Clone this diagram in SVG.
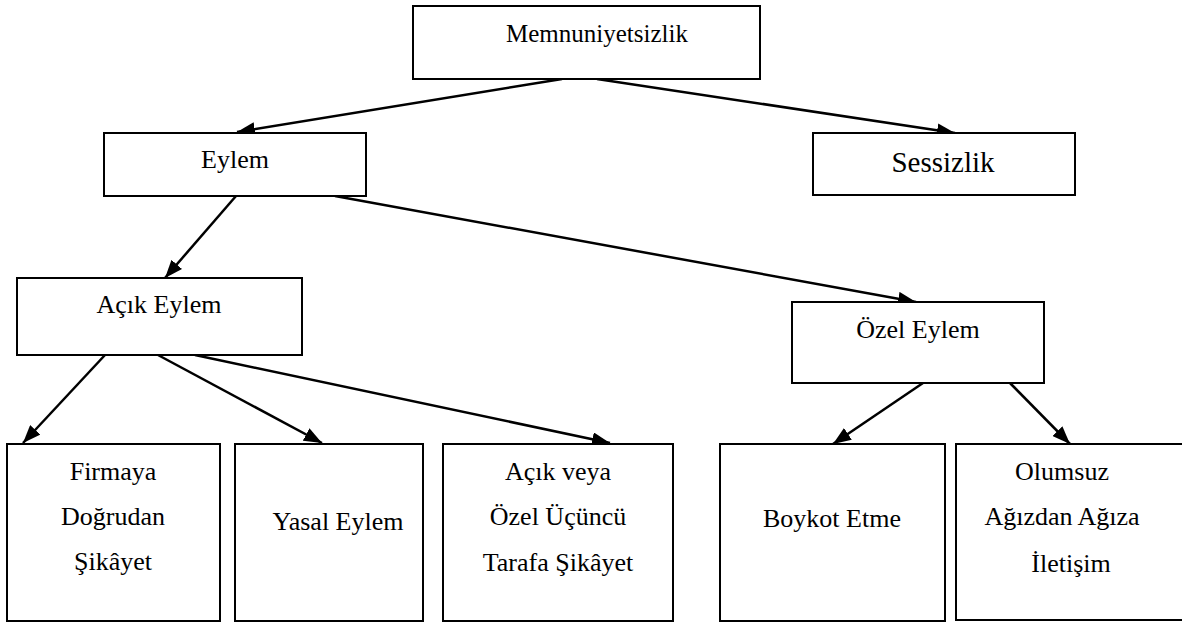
<svg xmlns="http://www.w3.org/2000/svg" width="1182" height="622" viewBox="0 0 1182 622">
<style>
.box{fill:#fff;stroke:#000;stroke-width:2}
.t{font-family:"Liberation Serif","Times New Roman",serif;font-size:26px;fill:#000;text-anchor:middle}
.c{stroke:#000;stroke-width:2.5;fill:none;marker-end:url(#ah)}
</style>
<defs>
<marker id="ah" viewBox="0 0 18 14" refX="18" refY="7" markerWidth="18" markerHeight="14" markerUnits="userSpaceOnUse" orient="auto">
<path d="M0,0 L18,7 L0,14 Z" fill="#000"/>
</marker>
</defs>
<rect width="1182" height="622" fill="#fff"/>
<g id="connectors">
<line class="c" x1="562" y1="79" x2="237" y2="132"/>
<line class="c" x1="597" y1="79" x2="955" y2="133"/>
<line class="c" x1="236" y1="196" x2="165" y2="278"/>
<line class="c" x1="335" y1="196" x2="916" y2="302"/>
<line class="c" x1="105" y1="355" x2="23" y2="443"/>
<line class="c" x1="158" y1="355" x2="322" y2="443"/>
<line class="c" x1="195" y1="355" x2="610" y2="443"/>
<line class="c" x1="923" y1="383" x2="833" y2="444"/>
<line class="c" x1="1010" y1="383" x2="1070" y2="444"/>
</g>
<g id="memnuniyetsizlik">
<rect class="box" x="413" y="6" width="347" height="73"/>
<text class="t" x="597" y="42" style="font-size:25px">Memnuniyetsizlik</text>
</g>
<g id="eylem">
<rect class="box" x="104" y="133" width="262" height="63"/>
<text class="t" x="235" y="168">Eylem</text>
</g>
<g id="sessizlik">
<rect class="box" x="813" y="133" width="262" height="62"/>
<text class="t" x="943" y="172" style="font-size:29px">Sessizlik</text>
</g>
<g id="acik-eylem">
<rect class="box" x="17" y="278" width="285" height="77"/>
<text class="t" x="159" y="313">Açık Eylem</text>
</g>
<g id="ozel-eylem">
<rect class="box" x="792" y="302" width="252" height="81"/>
<text class="t" x="918" y="338">Özel Eylem</text>
</g>
<g id="firmaya">
<rect class="box" x="7" y="444" width="213" height="177"/>
<text class="t" x="113" y="480">Firmaya</text>
<text class="t" x="113" y="525">Doğrudan</text>
<text class="t" x="113" y="570">Şikâyet</text>
</g>
<g id="yasal">
<rect class="box" x="235" y="444" width="188" height="177"/>
<text class="t" x="338" y="530">Yasal Eylem</text>
</g>
<g id="ucuncu">
<rect class="box" x="443" y="444" width="230" height="177"/>
<text class="t" x="558" y="480">Açık veya</text>
<text class="t" x="558" y="525">Özel Üçüncü</text>
<text class="t" x="558" y="571">Tarafa Şikâyet</text>
</g>
<g id="boykot">
<rect class="box" x="720" y="444" width="225" height="177"/>
<text class="t" x="832" y="527">Boykot Etme</text>
</g>
<g id="olumsuz">
<rect class="box" x="956" y="444" width="240" height="176"/>
<text class="t" x="1062" y="480">Olumsuz</text>
<text class="t" x="1062" y="525">Ağızdan Ağıza</text>
<text class="t" x="1071" y="572">İletişim</text>
</g>
</svg>
